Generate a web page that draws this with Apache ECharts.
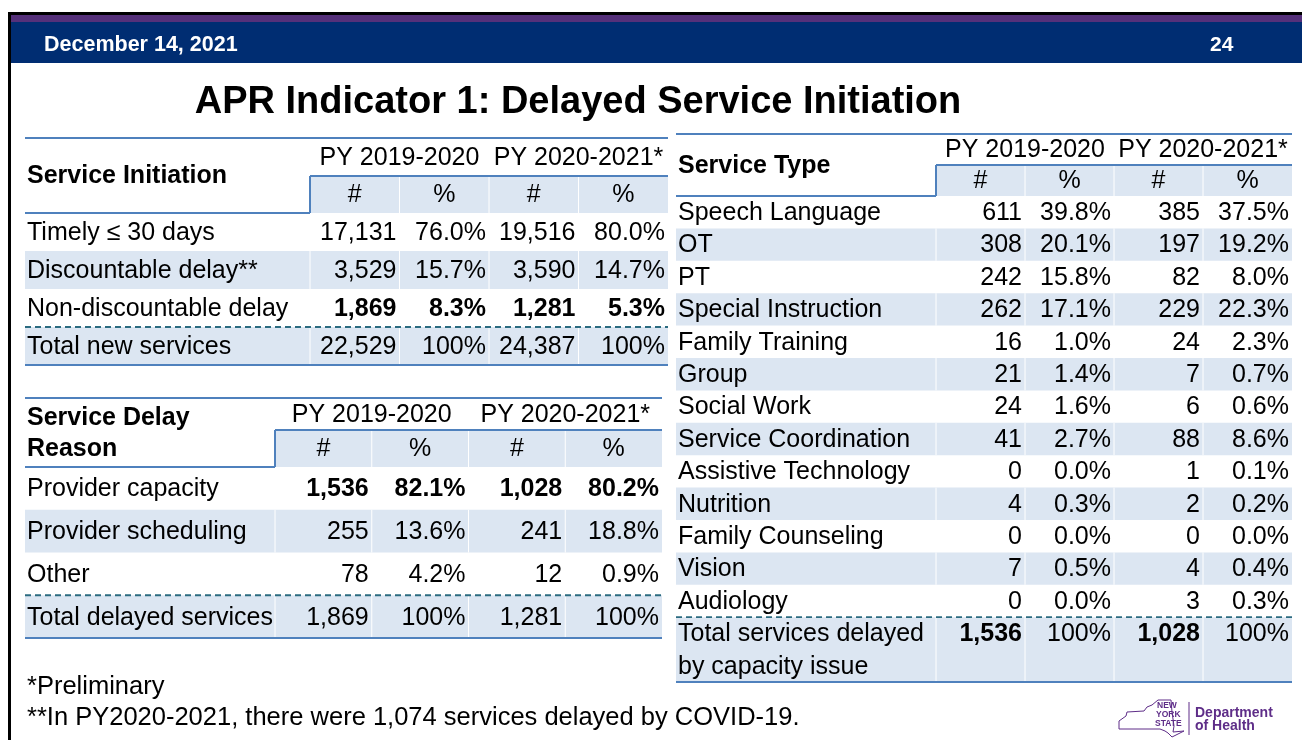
<!DOCTYPE html>
<html>
<head>
<meta charset="utf-8">
<title>APR Indicator 1: Delayed Service Initiation</title>
<script src="https://cdn.jsdelivr.net/npm/echarts@6/dist/echarts.min.js"></script>
<style>
  html, body { margin: 0; padding: 0; background: #fff; }
  #chart { width: 1302px; height: 740px; }
</style>
</head>
<body>
<div id="chart"></div>
<script>
// column heads shared by the three tables
const yearHeads = ['PY 2019-2020', 'PY 2020-2021*']
const colHeads = ['#', '%', '#', '%']

// Service Initiation
const initRows = ['Timely ≤ 30 days', 'Discountable delay**', 'Non-discountable delay', 'Total new services']
const initCount1920 = [17131, 3529, 1869, 22529]
const initPct1920 = [76.0, 15.7, 8.3, 100]
const initCount2021 = [19516, 3590, 1281, 24387]
const initPct2021 = [80.0, 14.7, 5.3, 100]

// Service Delay Reason
const reasonRows = ['Provider capacity', 'Provider scheduling', 'Other', 'Total delayed services']
const reasonCount1920 = [1536, 255, 78, 1869]
const reasonPct1920 = [82.1, 13.6, 4.2, 100]
const reasonCount2021 = [1028, 241, 12, 1281]
const reasonPct2021 = [80.2, 18.8, 0.9, 100]

// Service Type (delayed by capacity issue)
const typeRows = ['Speech Language', 'OT', 'PT', 'Special Instruction', 'Family Training', 'Group', 'Social Work',
  'Service Coordination', 'Assistive Technology', 'Nutrition', 'Family Counseling', 'Vision', 'Audiology',
  'Total services delayed\nby capacity issue']
const typeCount1920 = [611, 308, 242, 262, 16, 21, 24, 41, 0, 4, 0, 7, 0, 1536]
const typePct1920 = [39.8, 20.1, 15.8, 17.1, 1.0, 1.4, 1.6, 2.7, 0.0, 0.3, 0.0, 0.5, 0.0, 100]
const typeCount2021 = [385, 197, 82, 229, 24, 7, 6, 88, 1, 2, 0, 4, 3, 1028]
const typePct2021 = [37.5, 19.2, 8.0, 22.3, 2.3, 0.7, 0.6, 8.6, 0.1, 0.2, 0.0, 0.4, 0.3, 100]

const FONT = '"Liberation Sans", Arial, sans-serif'
const BLUE_LINE = '#4F81BD'
const BAND = '#DCE6F2'
const DASH = '#2B6B80'
const PURPLE = '#5E2D88'

const tables = [
  {
    title: ['Service Initiation'],
    rows: initRows,
    cols: [initCount1920, initPct1920, initCount2021, initPct2021],
    shaded: [1, 3],
    bold: (r, c) => r === 2,
    grid: { left: 310, top: 213, width: 358, height: 152 },
    labelW: 285, yearH: 38, headH: 37
  },
  {
    title: ['Service Delay', 'Reason'],
    rows: reasonRows,
    cols: [reasonCount1920, reasonPct1920, reasonCount2021, reasonPct2021],
    shaded: [1, 3],
    bold: (r, c) => r === 0,
    grid: { left: 275, top: 467, width: 387, height: 171 },
    labelW: 250, yearH: 32, headH: 37
  },
  {
    title: ['Service Type'],
    rows: typeRows,
    cols: [typeCount1920, typePct1920, typeCount2021, typePct2021],
    shaded: [1, 3, 5, 7, 9, 11, 13],
    bold: (r, c) => r === 13 && c % 2 === 0,
    grid: { left: 936, top: 196, width: 356, height: 486 },
    labelW: 260, yearH: 31, headH: 31,
    lastSpan: 2 // total row takes two lines
  }
]

function fmtCount(v) {
  return String(v).replace(/\B(?=(\d{3})+(?!\d))/g, ',')
}
function fmtPct(v) {
  return v === 100 ? '100%' : v.toFixed(1) + '%'
}

function text(s, x, y, o) {
  o = o || {}
  const align = o.align || 'left'
  return {
    type: 'text',
    x: x,
    y: y,
    style: {
      text: s,
      font: (o.bold ? 'bold ' : '') + (o.size || 25) + 'px ' + FONT,
      fill: o.color || '#000',
      align: align,
      textAlign: align,
      verticalAlign: 'middle',
      textVerticalAlign: 'middle'
    }
  }
}

function line(x1, y1, x2, y2, o) {
  o = o || {}
  return {
    type: 'line',
    shape: { x1: x1, y1: y1, x2: x2, y2: y2 },
    style: { stroke: o.color || BLUE_LINE, lineWidth: o.width || 2, lineDash: o.dash || null }
  }
}

// one row of a table: band fill, label and the four value cells
function rowRenderer(t) {
  return function (params, api) {
    const r = params.dataIndex
    const bw = api.size([1, 1])[0]
    const bh = api.size([1, 1])[1]
    const first = api.coord([0, r])
    const gx = first[0] - bw / 2
    const top = first[1] - bh / 2
    const isLast = r === t.rows.length - 1
    const h = bh * (isLast && t.lastSpan ? t.lastSpan : 1)
    const left = gx - t.labelW
    const right = gx + bw * colHeads.length
    const kids = []

    if (t.shaded.indexOf(r) >= 0) {
      kids.push({ type: 'rect', shape: { x: left, y: top, width: right - left, height: h }, style: { fill: BAND } })
      for (let c = 0; c < colHeads.length; c++) {
        kids.push(line(gx + c * bw, top, gx + c * bw, top + h, { color: '#fff', width: 1 }))
      }
    }

    t.rows[r].split('\n').forEach((s, k) => {
      kids.push(text(s, left + 2, top + bh * (k + 0.5) + 1))
    })

    for (let c = 0; c < colHeads.length; c++) {
      const p = api.coord([c, r])
      const v = t.cols[c][r]
      kids.push(text(c % 2 ? fmtPct(v) : fmtCount(v), p[0] + bw / 2 - 3, p[1] + 1, {
        align: 'right',
        bold: t.bold(r, c)
      }))
    }

    return { type: 'group', children: kids }
  }
}

// header block, dashed total line and bottom rule
function headRenderer(t) {
  return function (params, api) {
    const bw = api.size([1, 1])[0]
    const bh = api.size([1, 1])[1]
    const first = api.coord([0, 0])
    const n = colHeads.length
    const gx = first[0] - bw / 2
    const gy = first[1] - bh / 2
    const right = gx + bw * n
    const left = gx - t.labelW
    const headTop = gy - t.headH
    const tableTop = headTop - t.yearH
    const dashY = api.coord([0, t.rows.length - 1])[1] - bh / 2
    const bottom = dashY + bh * (t.lastSpan || 1)
    const kids = []

    kids.push({ type: 'rect', shape: { x: gx, y: headTop, width: right - gx, height: t.headH }, style: { fill: BAND } })
    for (let c = 1; c < n; c++) {
      kids.push(line(gx + c * bw, headTop, gx + c * bw, gy, { color: '#fff', width: 1 }))
    }
    kids.push(line(left, tableTop, right, tableTop))
    kids.push(line(gx, headTop, right, headTop))
    kids.push(line(gx, headTop, gx, gy))
    kids.push(line(left, gy, gx, gy))
    kids.push(line(left, dashY, right, dashY, { color: DASH, width: 1.8, dash: [6, 4] }))
    kids.push(line(left, bottom, right, bottom))

    yearHeads.forEach((s, i) => {
      kids.push(text(s, gx + bw * (2 * i + 1), tableTop + t.yearH / 2 + 1, { align: 'center' }))
    })
    colHeads.forEach((s, c) => {
      kids.push(text(s, api.coord([c, 0])[0], headTop + t.headH / 2 + 1, { align: 'center' }))
    })

    const midY = (tableTop + gy) / 2
    t.title.forEach((s, k) => {
      kids.push(text(s, left + 2, midY + 1 + (k - (t.title.length - 1) / 2) * 31, { bold: true }))
    })

    return { type: 'group', children: kids }
  }
}

const grids = []
const xAxes = []
const yAxes = []
const series = []

tables.forEach((t, i) => {
  grids.push(t.grid)
  xAxes.push({ type: 'category', gridIndex: i, data: colHeads, show: false })
  yAxes.push({
    type: 'category',
    gridIndex: i,
    inverse: true,
    show: false,
    data: t.lastSpan ? t.rows.concat(['']) : t.rows
  })
  series.push({
    type: 'custom',
    xAxisIndex: i,
    yAxisIndex: i,
    silent: true,
    clip: false,
    z: 2,
    renderItem: rowRenderer(t),
    data: t.rows.map((_, r) => [0, r])
  })
  series.push({
    type: 'custom',
    xAxisIndex: i,
    yAxisIndex: i,
    silent: true,
    clip: false,
    z: 3,
    renderItem: headRenderer(t),
    data: [[0, 0]]
  })
})

// rough outline of the state for the logo
const nyOutline = [
  [1119, 729], [1119, 721], [1126, 716], [1127, 712], [1144, 711], [1147, 707], [1152, 705],
  [1158, 700], [1171, 700], [1172, 712], [1174, 726], [1173, 732], [1184, 731], [1172, 737],
  [1168, 733], [1165, 731], [1160, 729], [1119, 729]
]

const chart = echarts.init(document.getElementById('chart'))

chart.setOption({
  animation: false,
  backgroundColor: '#fff',
  grid: grids,
  xAxis: xAxes,
  yAxis: yAxes,
  series: series,
  graphic: {
    elements: [
      { type: 'rect', shape: { x: 8, y: 12, width: 1294, height: 3 }, style: { fill: '#000' } },
      { type: 'rect', shape: { x: 8, y: 12, width: 3, height: 728 }, style: { fill: '#000' } },
      { type: 'rect', shape: { x: 11, y: 15, width: 1291, height: 7 }, style: { fill: '#55307A' } },
      { type: 'rect', shape: { x: 11, y: 22, width: 1291, height: 41 }, style: { fill: '#002D72' } },
      text('December 14, 2021', 44, 45, { bold: true, size: 21.5, color: '#fff' }),
      text('24', 1210, 45, { bold: true, size: 21, color: '#fff' }),
      text('APR Indicator 1: Delayed Service Initiation', 578, 103, { bold: true, size: 38, align: 'center' }),
      text('*Preliminary', 27, 687, { size: 25.5 }),
      text('**In PY2020-2021, there were 1,074 services delayed by COVID-19.', 27, 718, { size: 25.5 }),
      {
        type: 'polyline',
        shape: { points: nyOutline },
        style: { stroke: PURPLE, lineWidth: 1, fill: null }
      },
      text('NEW', 1157, 706, { bold: true, size: 8.5, color: PURPLE }),
      text('YORK', 1156, 715, { bold: true, size: 8.5, color: PURPLE }),
      text('STATE', 1155, 724, { bold: true, size: 8.5, color: PURPLE }),
      { type: 'line', shape: { x1: 1189, y1: 702, x2: 1189, y2: 735 }, style: { stroke: PURPLE, lineWidth: 1 } },
      text('Department', 1195, 713, { bold: true, size: 14, color: PURPLE }),
      text('of Health', 1195, 726, { bold: true, size: 14, color: PURPLE })
    ]
  }
})
</script>
</body>
</html>
